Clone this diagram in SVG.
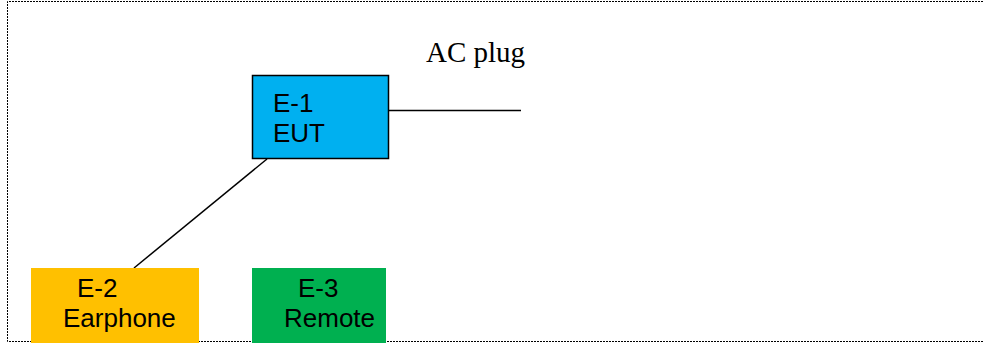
<svg xmlns="http://www.w3.org/2000/svg" width="984" height="343" viewBox="0 0 984 343">
<style>
.frame{fill:none;stroke:#000;stroke-width:1;stroke-dasharray:2 1}
.lbl{font-family:"Liberation Sans",Arial,sans-serif;font-size:26px;fill:#000}
.ac{font-family:"Liberation Serif","Times New Roman",serif;font-size:29px;fill:#000}
.wire{stroke:#000;stroke-width:1.5;fill:none}
</style>
<rect width="984" height="343" fill="#fff"/>
<path class="frame" d="M983,1.5 H7.5 V341.5 H983"/>
<g id="connectors">
<line class="wire" x1="389" y1="110.5" x2="521" y2="110.5"/>
<line class="wire" x1="267" y1="159" x2="134" y2="268"/>
</g>
<g id="ac-plug"><text class="ac" x="426" y="62">AC plug</text></g>
<g id="E-1">
<rect x="252.5" y="75.5" width="136" height="83" fill="#00b0f0" stroke="#000" stroke-width="1.5"/>
<text class="lbl" x="273" y="112">E-1</text>
<text class="lbl" x="273" y="142">EUT</text>
</g>
<g id="E-2">
<rect x="31" y="268" width="168" height="75" fill="#ffc000"/>
<text class="lbl" x="77" y="297">E-2</text>
<text class="lbl" x="63" y="327">Earphone</text>
</g>
<g id="E-3">
<rect x="252" y="268" width="134" height="75" fill="#00b050"/>
<text class="lbl" x="298" y="297">E-3</text>
<text class="lbl" x="284" y="327">Remote</text>
</g>
</svg>
